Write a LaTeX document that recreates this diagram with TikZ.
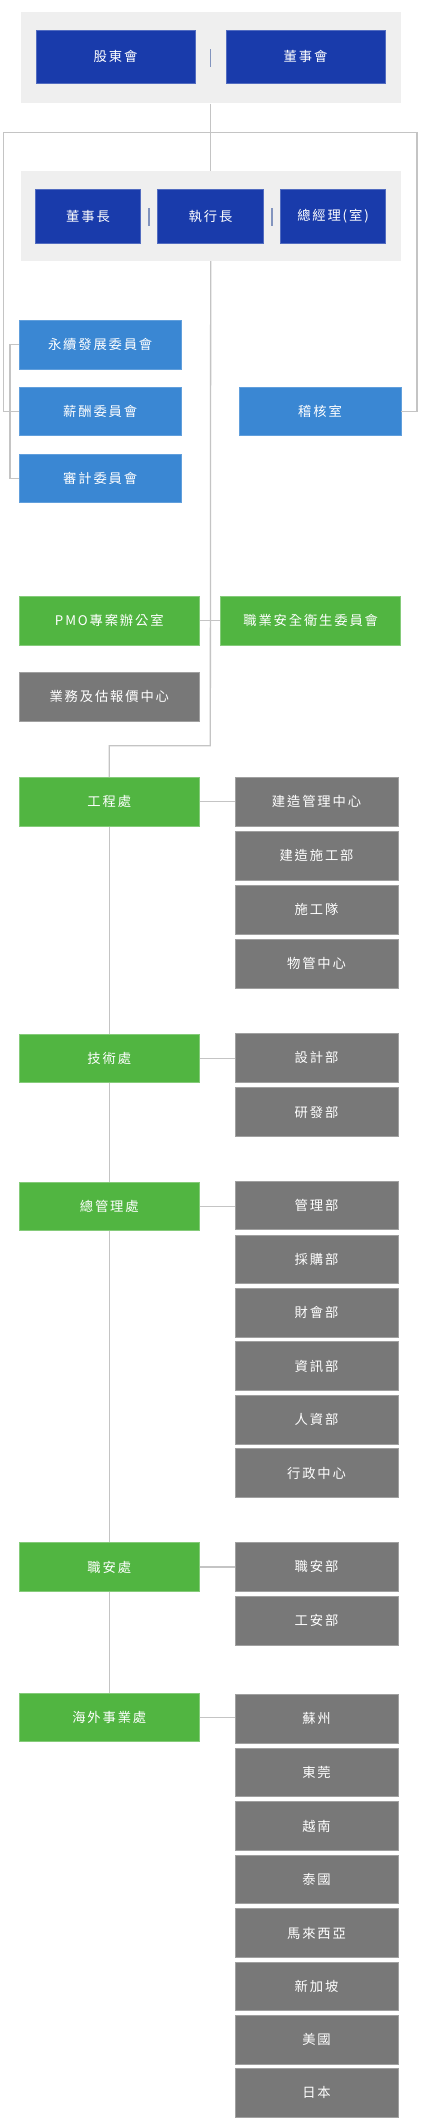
\documentclass[tikz,border=0pt]{standalone}
\usepackage{fontspec}
\setmainfont{Noto Sans CJK TC}[LetterSpace=14]
\usetikzlibrary{calc}
\definecolor{dblue}{HTML}{193BAB}
\definecolor{lblue}{HTML}{3A87D3}
\definecolor{grn}{HTML}{51B541}
\definecolor{gbox}{HTML}{787878}
\definecolor{panelc}{HTML}{EFEFEF}
\definecolor{linec}{HTML}{C4C4C4}
\definecolor{sepc}{HTML}{8294BE}
\tikzset{
  box/.style={rectangle, inner sep=0pt, text=white, line width=0.8pt, font=\fontsize{13.3}{16}\selectfont},
  dbox/.style={box, fill=dblue, draw=dblue!75!white, minimum height=53.7pt},
  lbox/.style={box, fill=lblue, draw=lblue!80!white, minimum width=161.7pt, minimum height=48.7pt},
  gnbox/.style={box, fill=grn, draw=grn!70!white, minimum width=180pt, minimum height=48.7pt},
  gybox/.style={box, fill=gbox, draw=gbox!70!white, minimum width=163pt, minimum height=48.7pt},
  panel/.style={rectangle, inner sep=0pt, fill=panelc, minimum width=380pt},
  sepbar/.style={rectangle, inner sep=0pt, fill=sepc, minimum width=1.5pt, minimum height=18pt},
  conn/.style={draw=linec, line width=1.3pt}
}
\begin{document}
\begin{tikzpicture}[x=1pt,y=-1pt]
\useasboundingbox[fill=white] (0,0) rectangle (421,2126);

% panels
\node[panel, minimum height=91.6pt] (p1) at (210.7,57.5) {};
\node[panel, minimum height=90pt] (p2) at (210.7,216) {};

\coordinate (lt) at (3.7,132.7);
\coordinate (rt) at (417,132.7);
\coordinate (bend) at (210.3,745.7);

% top boxes
\node[dbox, minimum width=159pt] (gudong) at (115.5,56.85) {股東會};
\node[dbox, minimum width=159pt] (dongshi) at (305.5,56.85) {董事會};
\node[sepbar] (s0) at (210.3,57.5) {};

\node[dbox, minimum width=105.4pt, minimum height=54.4pt] (chair) at (88,216.5) {董事長};
\node[dbox, minimum width=105.6pt, minimum height=54.4pt] (ceo) at (210.5,216.5) {執行長};
\node[dbox, minimum width=105.4pt, minimum height=54.4pt] (gm) at (333,216.5) {總經理(室)};
\node[sepbar] (s1) at (149,216.8) {};
\node[sepbar] (s2) at (272,216.8) {};

% committees
\node[lbox, minimum height=49.3pt] (sus) at (100.15,344.65) {永續發展委員會};
\node[lbox] (sal) at (100.15,411.35) {薪酬委員會};
\node[lbox] (aud) at (100.15,478.35) {審計委員會};
\node[lbox, minimum width=162pt] (audit) at (320,411.35) {稽核室};

% PMO row
\node[gnbox] (pmo) at (109.3,620.65) {PMO專案辦公室};
\node[gnbox] (osh) at (310.7,620.65) {職業安全衛生委員會};
\node[box, fill=gbox, draw=gbox!70!white, minimum width=180pt, minimum height=49pt] (biz) at (109.3,696.8) {業務及估報價中心};

% divisions
\node[gnbox] (eng) at (109.3,801.8) {工程處};
\node[gnbox] (tech) at (109.3,1058.35) {技術處};
\node[gnbox] (adm) at (109.3,1206.35) {總管理處};
\node[gnbox] (saf) at (109.3,1567) {職安處};
\node[gnbox] (ovs) at (109.3,1717.3) {海外事業處};

% engineering units
\node[gybox] (e1) at (316.5,801.8) {建造管理中心};
\node[gybox] (e2) at (316.5,855.8) {建造施工部};
\node[gybox] (e3) at (316.5,909.8) {施工隊};
\node[gybox] (e4) at (316.5,963.8) {物管中心};
% technology units
\node[gybox] (t1) at (316.5,1057.8) {設計部};
\node[gybox] (t2) at (316.5,1112.2) {研發部};
% administration units
\node[gybox] (a1) at (316.5,1205.5) {管理部};
\node[gybox] (a2) at (316.5,1259.5) {採購部};
\node[gybox] (a3) at (316.5,1312.8) {財會部};
\node[gybox] (a4) at (316.5,1366.2) {資訊部};
\node[gybox] (a5) at (316.5,1419.8) {人資部};
\node[gybox] (a6) at (316.5,1473.2) {行政中心};
% safety units
\node[gybox] (f1) at (316.5,1566.8) {職安部};
\node[gybox] (f2) at (316.5,1620.7) {工安部};
% overseas units
\node[gybox] (o1) at (316.5,1718.7) {蘇州};
\node[gybox] (o2) at (316.5,1772.5) {東莞};
\node[gybox] (o3) at (316.5,1826) {越南};
\node[gybox] (o4) at (316.5,1879.5) {泰國};
\node[gybox] (o5) at (316.5,1933) {馬來西亞};
\node[gybox] (o6) at (316.5,1986.5) {新加坡};
\node[gybox] (o7) at (316.5,2039.8) {美國};
\node[gybox] (o8) at (316.5,2092.8) {日本};

% connectors
\draw[conn] (p1.south) -- (p2.north);
\draw[conn] (sal.west) -| (lt) -- (rt) |- (audit.east);
\draw[conn] (sus.west) -- ++(-9,0) |- (aud.west);
\draw[conn] (p2.south) -- (bend) -| (eng.north);
\draw[conn] (pmo.east) -- (osh.west);
\draw[conn] (eng.south) -- (tech.north);
\draw[conn] (tech.south) -- (adm.north);
\draw[conn] (adm.south) -- (saf.north);
\draw[conn] (saf.south) -- (ovs.north);
\draw[conn] (eng.east) -- (eng.east -| e1.west);
\draw[conn] (tech.east) -- (tech.east -| t1.west);
\draw[conn] (adm.east) -- (adm.east -| a1.west);
\draw[conn] (saf.east) -- (saf.east -| f1.west);
\draw[conn] (ovs.east) -- (ovs.east -| o1.west);
\end{tikzpicture}
\end{document}
